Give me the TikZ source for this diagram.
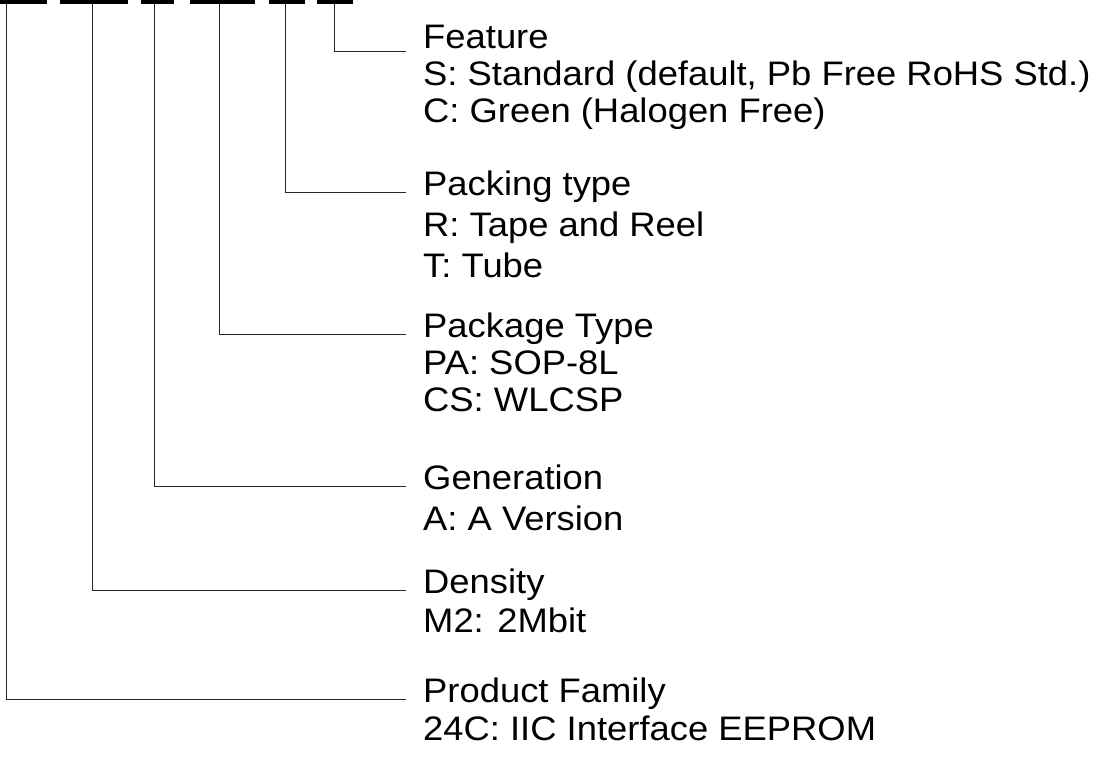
\documentclass[tikz,border=0pt]{standalone}
\usepackage{fontspec}
\setmainfont[FakeStretch=1.07]{Liberation Sans}
\usepackage{tikz}
\usetikzlibrary{positioning}

\tikzset{
  head/.style={anchor=west, inner xsep=17pt, inner ysep=0pt, text height=0.72em, text depth=0pt},
  opt/.style={anchor=base west, inner xsep=17pt, inner ysep=0pt},
  lead/.style={line width=0.9pt, black!85},
}

\begin{document}
\begin{tikzpicture}[x=1pt, y=-1pt, font=\fontsize{34}{38}\selectfont]
  \useasboundingbox (0,0) rectangle (1102,762);
  % part number bars along the top edge
  \foreach \a/\b in {-2/47, 60/128, 141/174, 190/255, 269/305, 317/353}
    \fill (\a,0.5) rectangle (\b,4.5);
  \foreach \n/\x in {1/6, 2/92, 3/154, 4/219, 5/285, 6/334}
    \coordinate (tap\n) at (\x,4.5);
  % field titles (feature sits a bit higher on its leader)
  \node[head, text depth=12pt] (feat) at (406,51) {Feature};
  \node[head] (pack) at (406,192) {Packing type};
  \node[head] (pkg)  at (406,334) {Package Type};
  \node[head] (gen)  at (406,486) {Generation};
  \node[head] (dens) at (406,590) {Density};
  \node[head] (fam)  at (406,699) {Product Family};
  % option lines under each title
  \node[opt] (feat1) at ([yshift=-37pt]feat.base west) {S: Standard (default, Pb Free RoHS Std.)};
  \node[opt] (feat2) at ([yshift=-37pt]feat1.base west) {C: Green (Halogen Free)};
  \node[opt] (pack1) at ([yshift=-41pt]pack.base west) {R: Tape and Reel};
  \node[opt] (pack2) at ([yshift=-41pt]pack1.base west) {T: Tube};
  \node[opt] (pkg1) at ([yshift=-37pt]pkg.base west) {PA: SOP-8L};
  \node[opt] (pkg2) at ([yshift=-37pt]pkg1.base west) {CS: WLCSP};
  \node[opt] (gen1) at ([yshift=-41pt]gen.base west) {A: A Version};
  \node[opt] (dens1) at ([yshift=-39pt]dens.base west) {M2: 2Mbit};
  \node[opt] (fam1) at ([yshift=-38pt]fam.base west) {24C: IIC Interface EEPROM};
  % leaders from bars to titles
  \draw[lead] (tap6) |- (feat);
  \draw[lead] (tap5) |- (pack);
  \draw[lead] (tap4) |- (pkg);
  \draw[lead] (tap3) |- (gen);
  \draw[lead] (tap2) |- (dens);
  \draw[lead] (tap1) |- (fam);
\end{tikzpicture}
\end{document}
